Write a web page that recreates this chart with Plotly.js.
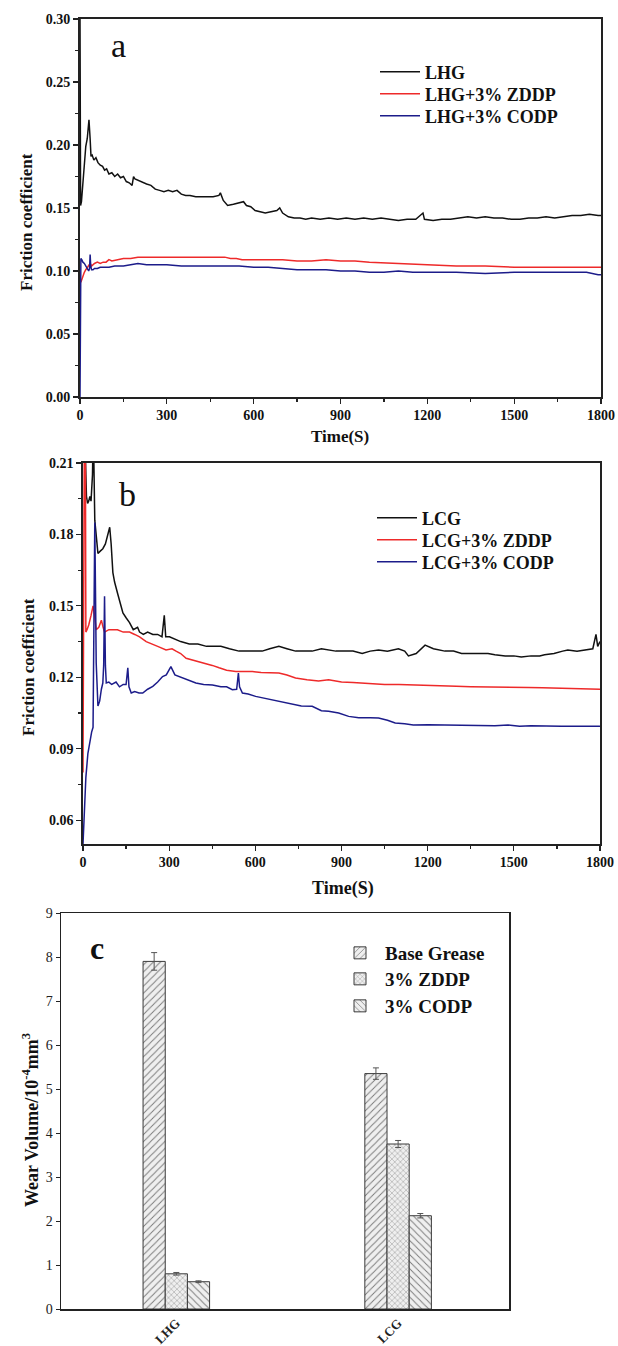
<!DOCTYPE html>
<html>
<head>
<meta charset="utf-8">
<script src="https://cdn.plot.ly/plotly-3.0.1.min.js"></script>
<style>
html,body{margin:0;padding:0;background:#fff;}
#chart{width:618px;height:1346px;}
</style>
</head>
<body>
<div id="chart"></div>
<script>
// ---------- Panel a : LHG series ----------
const tA_LHG = [0,2,5,10,15,20,25,31,35,38,42,48,55,62,70,78,85,92,100,110,120,130,140,150,160,170,180,185,190,200,215,230,245,260,275,290,305,320,335,350,365,380,400,420,440,460,480,485,495,510,530,550,565,575,590,605,620,640,660,680,690,700,720,740,760,780,800,830,860,890,920,950,980,1010,1040,1070,1100,1130,1160,1185,1190,1220,1250,1280,1310,1340,1370,1400,1430,1460,1490,1520,1550,1580,1610,1640,1670,1700,1730,1760,1790,1800];
const fA_LHG = [0.300,0.152,0.155,0.170,0.190,0.199,0.205,0.220,0.205,0.191,0.192,0.188,0.190,0.186,0.184,0.183,0.180,0.181,0.177,0.178,0.175,0.177,0.174,0.175,0.171,0.170,0.168,0.175,0.173,0.172,0.170,0.169,0.168,0.165,0.164,0.163,0.164,0.163,0.164,0.161,0.160,0.160,0.159,0.159,0.159,0.159,0.160,0.162,0.156,0.152,0.153,0.154,0.155,0.152,0.151,0.148,0.147,0.146,0.147,0.148,0.150,0.146,0.143,0.142,0.142,0.141,0.142,0.141,0.142,0.141,0.142,0.141,0.142,0.141,0.142,0.141,0.140,0.141,0.141,0.146,0.141,0.140,0.141,0.141,0.142,0.143,0.142,0.143,0.142,0.142,0.141,0.141,0.142,0.142,0.143,0.142,0.143,0.144,0.144,0.145,0.144,0.144];

const tA_ZDDP = [0,3,6,10,15,20,25,30,35,40,50,60,70,80,90,100,110,130,150,175,200,250,300,350,400,450,500,520,540,560,600,650,700,750,800,850,900,950,1000,1100,1200,1300,1400,1500,1600,1700,1800];
const fA_ZDDP = [0.095,0.091,0.093,0.096,0.099,0.101,0.103,0.104,0.106,0.104,0.106,0.107,0.106,0.107,0.107,0.109,0.108,0.109,0.110,0.110,0.111,0.111,0.111,0.111,0.111,0.111,0.111,0.110,0.110,0.109,0.109,0.109,0.109,0.108,0.108,0.109,0.108,0.108,0.107,0.106,0.105,0.104,0.104,0.103,0.103,0.103,0.103];

const tA_CODP = [0,1,3,6,10,15,20,25,30,33,35,37,40,45,50,60,70,80,100,120,150,175,200,230,260,300,350,400,450,500,550,600,650,700,750,800,850,900,950,1000,1050,1100,1150,1200,1300,1400,1500,1600,1700,1750,1790,1800];
const fA_CODP = [0.000,0.110,0.110,0.109,0.107,0.106,0.104,0.102,0.100,0.102,0.113,0.104,0.101,0.101,0.102,0.102,0.103,0.103,0.103,0.104,0.104,0.105,0.106,0.105,0.105,0.105,0.104,0.104,0.104,0.104,0.104,0.103,0.103,0.102,0.101,0.101,0.101,0.100,0.100,0.099,0.099,0.100,0.099,0.099,0.099,0.098,0.099,0.099,0.099,0.099,0.097,0.097];

// ---------- Panel b : LCG series ----------
const tB_LCG = [0,5,8,12,16,20,24,28,33,36,41,47,52,60,69,78,87,93,98,104,110,115,121,130,139,150,162,175,190,197,210,225,243,260,275,283,288,301,320,340,370,400,430,451,480,510,543,570,600,624,650,682,710,740,770,798,830,855,880,910,940,972,1000,1029,1060,1098,1120,1133,1160,1191,1220,1260,1290,1318,1350,1380,1410,1434,1470,1500,1526,1560,1590,1607,1640,1670,1688,1720,1757,1775,1786,1792,1800];
const fB_LCG = [0.250,0.230,0.210,0.196,0.193,0.194,0.196,0.194,0.205,0.225,0.186,0.178,0.172,0.173,0.174,0.176,0.181,0.183,0.176,0.164,0.160,0.157,0.155,0.151,0.147,0.145,0.143,0.140,0.141,0.139,0.138,0.139,0.138,0.138,0.137,0.146,0.137,0.137,0.136,0.135,0.134,0.134,0.133,0.133,0.133,0.132,0.131,0.131,0.131,0.131,0.132,0.133,0.132,0.131,0.131,0.131,0.132,0.1315,0.131,0.131,0.131,0.130,0.131,0.1315,0.131,0.132,0.131,0.129,0.130,0.1335,0.132,0.131,0.131,0.130,0.130,0.130,0.130,0.1295,0.129,0.129,0.1285,0.129,0.129,0.1295,0.130,0.131,0.1315,0.131,0.1315,0.132,0.138,0.133,0.135];

const tB_ZDDP = [0,2,5,8,10,14,20,28,35,40,46,55,64,70,75,90,104,120,140,162,180,197,220,243,260,289,310,324,340,359,390,428,450,474,500,532,560,590,620,650,682,710,740,780,820,855,900,940,971,1010,1050,1100,1150,1202,1250,1300,1350,1400,1434,1500,1550,1600,1665,1720,1760,1800];
const fB_ZDDP = [0.080,0.150,0.230,0.230,0.139,0.140,0.142,0.146,0.150,0.146,0.140,0.141,0.144,0.141,0.139,0.140,0.140,0.140,0.139,0.139,0.138,0.137,0.135,0.134,0.133,0.1315,0.132,0.131,0.130,0.128,0.127,0.126,0.125,0.124,0.123,0.1224,0.1224,0.1224,0.122,0.122,0.1218,0.121,0.1197,0.119,0.1185,0.119,0.118,0.1178,0.1176,0.1175,0.117,0.117,0.1168,0.1169,0.1165,0.1162,0.116,0.116,0.1159,0.1158,0.1157,0.1156,0.1155,0.1153,0.1152,0.115];

const tB_CODP = [0,5,10,17,25,30,35,38,41,44,46,52,58,64,69,72,75,78,81,90,100,115,127,140,150,156,160,168,180,195,208,225,243,260,277,290,306,320,335,360,393,420,451,480,500,520,535,541,545,555,575,601,640,682,720,760,798,830,855,890,925,960,1000,1029,1060,1087,1120,1150,1202,1250,1300,1350,1400,1434,1480,1520,1560,1600,1640,1665,1700,1740,1770,1792,1800];
const fB_CODP = [0.050,0.066,0.078,0.088,0.094,0.097,0.099,0.130,0.185,0.150,0.126,0.108,0.110,0.115,0.1176,0.125,0.154,0.125,0.1176,0.118,0.117,0.118,0.116,0.117,0.117,0.124,0.116,0.1134,0.114,0.1134,0.1134,0.115,0.1162,0.118,0.1203,0.121,0.1245,0.121,0.1203,0.119,0.1176,0.117,0.1168,0.116,0.116,0.1148,0.115,0.1218,0.116,0.1134,0.113,0.112,0.111,0.110,0.109,0.108,0.1078,0.106,0.1057,0.105,0.1036,0.103,0.103,0.1029,0.102,0.1008,0.1005,0.100,0.1001,0.100,0.0998,0.100,0.0997,0.0997,0.100,0.0995,0.0997,0.0995,0.0996,0.0994,0.0995,0.0993,0.0994,0.0994,0.0995];

// ---------- Panel c : wear volume ----------
const categories = ['LHG','LCG'];
const wearBase = [7.90, 5.35];
const wearBaseErr = [0.20, 0.13];
const wearZDDP = [0.80, 3.75];
const wearZDDPErr = [0.03, 0.08];
const wearCODP = [0.62, 2.12];
const wearCODPErr = [0.02, 0.05];

const namesA = ['LHG','LHG+3% ZDDP','LHG+3% CODP'];
const namesB = ['LCG','LCG+3% ZDDP','LCG+3% CODP'];
const namesC = ['Base Grease','3% ZDDP','3% CODP'];

// ---------- helpers ----------
const W = 618, H = 1346;
const px = v => v / W;
const py = v => 1 - v / H;
const SERIF = 'Liberation Serif, Times New Roman, serif';
const cBlack = '#111111', cRed = '#ee2a2a', cBlue = '#1c1c8a';

function lineTrace(t, f, name, color, xa, ya, leg) {
  return {x: t, y: f, name: name, type: 'scatter', mode: 'lines',
    line: {color: color, width: 1.5}, xaxis: xa, yaxis: ya, legend: leg};
}

const traces = [
  lineTrace(tA_LHG, fA_LHG, namesA[0], cBlack, 'x', 'y', 'legend'),
  lineTrace(tA_ZDDP, fA_ZDDP, namesA[1], cRed, 'x', 'y', 'legend2'),
  lineTrace(tA_CODP, fA_CODP, namesA[2], cBlue, 'x', 'y', 'legend3'),
  lineTrace(tB_LCG, fB_LCG, namesB[0], cBlack, 'x2', 'y2', 'legend4'),
  lineTrace(tB_ZDDP, fB_ZDDP, namesB[1], cRed, 'x2', 'y2', 'legend5'),
  lineTrace(tB_CODP, fB_CODP, namesB[2], cBlue, 'x2', 'y2', 'legend6'),
];

function barTrace(vals, errs, name, shape, size, leg) {
  return {x: categories, y: vals, name: name, type: 'bar', xaxis: 'x3', yaxis: 'y3', legend: leg,
    marker: {color: '#efefef', line: {color: '#3a3a3a', width: 1},
      pattern: {shape: shape, fgcolor: '#777', bgcolor: '#efefef', size: size, solidity: 0.18}},
    error_y: {type: 'data', array: errs, visible: true, color: '#555', thickness: 1, width: 3}};
}
traces.push(barTrace(wearBase, wearBaseErr, namesC[0], '/', 5, 'legend7'));
traces.push(barTrace(wearZDDP, wearZDDPErr, namesC[1], 'x', 4, 'legend8'));
traces.push(barTrace(wearCODP, wearCODPErr, namesC[2], '\\', 5, 'legend9'));

const tickBold = {family: SERIF, size: 14, color: '#111', weight: 'bold'};
const lineAxis = (dom, extra) => Object.assign({
  domain: dom, showline: true, mirror: true, linecolor: '#222', linewidth: 1.6,
  ticks: 'outside', ticklen: 5, tickwidth: 1.2, tickcolor: '#222',
  showgrid: false, zeroline: false, tickfont: tickBold, automargin: false
}, extra);

function ann(text, x, y, size, bold, angle) {
  return {text: text, x: px(x), y: py(y), xref: 'paper', yref: 'paper', showarrow: false,
    xanchor: 'center', yanchor: 'middle', textangle: angle || 0,
    font: {family: SERIF, size: size, color: '#111', weight: bold ? 'bold' : 'normal'}};
}
function leg(x, y, size) {
  return {x: px(x), y: py(y), xanchor: 'left', yanchor: 'middle', bgcolor: 'rgba(0,0,0,0)',
    font: {family: SERIF, size: size, color: '#111', weight: 'bold'}, itemwidth: 40};
}

const layout = {
  width: W, height: H,
  margin: {l: 0, r: 0, t: 0, b: 0},
  paper_bgcolor: '#fff', plot_bgcolor: '#fff',
  showlegend: true,
  barmode: 'group', bargap: 0.7, bargroupgap: 0,
  font: {family: SERIF, color: '#111'},
  xaxis: lineAxis([px(80), px(601)], {anchor: 'y', range: [0, 1800], tick0: 0, dtick: 300,
    minor: {ticks: 'outside', ticklen: 3, tick0: 0, dtick: 150, tickcolor: '#222'}}),
  yaxis: lineAxis([py(397), py(19)], {anchor: 'x', range: [0, 0.30], tick0: 0, dtick: 0.05, tickformat: '.2f', linewidth: 2,
    minor: {ticks: 'outside', ticklen: 3, tick0: 0, dtick: 0.025, tickcolor: '#222'}}),
  xaxis2: lineAxis([px(83), px(600)], {anchor: 'y2', range: [0, 1800], tick0: 0, dtick: 300,
    minor: {ticks: 'outside', ticklen: 3, tick0: 0, dtick: 150, tickcolor: '#222'}}),
  yaxis2: lineAxis([py(844), py(463)], {anchor: 'x2', range: [0.05, 0.21], tick0: 0.06, dtick: 0.03, tickformat: '.2f',
    minor: {ticks: 'outside', ticklen: 3, tick0: 0.06, dtick: 0.015, tickcolor: '#222'}}),
  xaxis3: {domain: [px(61), px(509)], anchor: 'y3', range: [-0.52, 1.5], showline: true, mirror: true,
    linecolor: '#222', linewidth: 1.5, ticks: '', showgrid: false, zeroline: false, tickangle: -45,
    tickfont: {family: SERIF, size: 13, color: '#222', weight: 'bold'}, automargin: false},
  yaxis3: {domain: [py(1309), py(913)], anchor: 'x3', range: [0, 9], dtick: 1, showline: true, mirror: true,
    linecolor: '#222', linewidth: 1.5, ticks: 'outside', ticklen: 4, tickcolor: '#222', showgrid: false, zeroline: false,
    tickfont: {family: SERIF, size: 14, color: '#222'}, automargin: false},
  legend: leg(375, 72, 18),
  legend2: leg(375, 94, 18),
  legend3: leg(375, 116, 18),
  legend4: leg(372, 518, 18),
  legend5: leg(372, 540, 18),
  legend6: leg(372, 562, 18),
  legend7: leg(335, 953, 19),
  legend8: leg(335, 979, 19),
  legend9: leg(335, 1006, 19),
  annotations: [
    ann('a', 118, 46, 34, false),
    ann('b', 127, 494, 34, false),
    ann('c', 97, 948, 32, true),
    ann('Friction coefficient', 27, 222, 17, true, -90),
    ann('Friction coefficient', 28, 667, 17, true, -90),
    ann('Time(S)', 340, 437, 17, true),
    ann('Time(S)', 343, 888, 18, true),
    ann('Wear Volume/10<sup>-4</sup>mm<sup>3</sup>', 30, 1120, 18, true, -90)
  ]
};

Plotly.newPlot('chart', traces, layout, {displayModeBar: false, staticPlot: true});
</script>
</body>
</html>
